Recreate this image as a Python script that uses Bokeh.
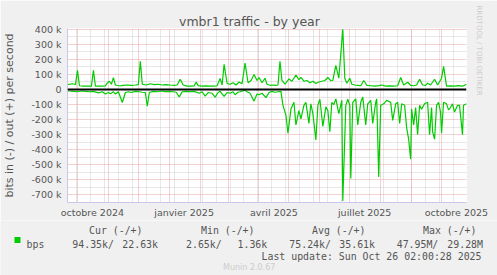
import pandas as pd
from bokeh.plotting import figure
from bokeh.models import Range1d, FixedTicker, Span, Title
from bokeh.core.properties import value
from bokeh.embed import file_html
from bokeh.resources import INLINE

# ---------------- data ----------------
START = pd.Timestamp("2024-09-21 02:00:28")
END = pd.Timestamp("2025-10-26 02:00:28")

# out (+), days since START, values in kbit/s
out_day = [0, 2, 5, 8, 10, 12, 16, 20, 24, 26, 28, 34, 38, 40, 42, 44, 46, 48, 51, 54, 56, 60, 64, 68, 71, 73,
           75, 79, 83, 87, 91, 95, 99, 103, 107, 110, 113, 116, 120, 124, 127, 129, 131, 135, 139, 143, 147,
           150, 153, 155, 157, 160, 163, 166, 169, 172, 175, 178, 181, 184, 187, 190, 192, 195, 198, 200,
           203, 206, 209, 211, 213, 215, 218, 222, 225, 229, 232, 234, 237, 240, 243, 246, 249, 252, 255,
           258, 261, 264, 266, 269, 272, 276, 278, 280, 283, 285, 288, 291, 294, 297, 300, 304, 308, 312,
           315, 319, 323, 327, 331, 334, 337, 341, 344, 347, 350, 353, 356, 359, 361, 364, 368, 371, 375,
           377, 380, 384, 388, 392, 396, 400]
out_kbps = [33, 35, 38, 33, 127, 25, 22, 22, 22, 127, 22, 22, 24, 45, 55, 35, 79, 30, 25, 26, 28, 30, 28, 30, 32, 187,
            35, 30, 38, 32, 35, 30, 33, 30, 28, 30, 68, 30, 22, 22, 24, 50, 26, 22, 24, 22, 22,
            25, 74, 30, 167, 40, 35, 45, 30, 50, 38, 175, 45, 60, 100, 60, 80, 45, 75, 35,
            28, 30, 28, 30, 187, 60, 35, 70, 55, 95, 65, 80, 55, 60, 45, 55, 40, 50, 55,
            60, 80, 58, 60, 160, 75, 400, 75, 42, 75, 35, 30, 28, 25, 60, 28, 25, 22, 26,
            30, 22, 24, 22, 25, 80, 30, 48, 28, 25, 30, 68, 30, 28, 42, 30, 68, 30, 75,
            154, 22, 24, 22, 26, 22, 35]

# in (-), days since START, values in kbit/s (drawn below zero)
in_day = [0, 2, 6, 10, 14, 18, 22, 26, 31, 35, 38, 41, 43, 46, 48, 51, 55, 58, 61, 64, 68, 72, 75, 78, 80, 82,
          86, 90, 94, 98, 102, 106, 109, 112, 115, 119, 123, 127, 132, 135, 138, 141, 145, 148, 151, 153,
          157, 160, 163, 166, 168, 171, 173, 178, 180, 183, 187, 190, 192, 195, 199, 202, 205, 208, 211,
          214, 216, 219, 221, 224, 227, 229, 232, 234, 237, 239, 242, 244, 246, 249, 251, 253, 256, 259,
          261, 263, 265, 267, 269, 272, 275, 276, 279, 281, 283, 284, 286, 289, 291, 294, 296, 299, 301,
          304, 306, 309, 310, 312, 314, 317, 320, 324, 326, 329, 331, 333, 335, 338, 340, 342, 344, 345,
          347, 349, 351, 353, 355, 358, 361, 363, 365, 366, 368, 370, 372, 374, 375, 377, 380, 382, 384,
          386, 388, 391, 393, 396, 397, 400]
in_kbps = [10, 10, 12, 15, 10, 12, 15, 12, 22, 15, 30, 20, 28, 15, 30, 15, 86, 20, 15, 20, 12, 15, 18, 20, 111, 20,
           12, 15, 10, 14, 12, 15, 18, 49, 15, 12, 14, 12, 25, 15, 44, 20, 25, 50, 20, 12,
           45, 20, 25, 15, 35, 18, 15, 5, 15, 25, 77, 30, 35, 25, 54, 20, 12, 18, 15,
           12, 105, 170, 290, 130, 85, 235, 140, 195, 105, 85, 225, 95, 160, 335, 105, 65, 245, 115,
           140, 280, 85, 100, 62, 160, 72, 740, 105, 65, 105, 590, 85, 62, 235, 85, 50, 235, 95,
           72, 225, 85, 62, 580, 105, 95, 72, 85, 205, 95, 85, 225, 95, 105, 255, 330, 462, 130,
           235, 120, 300, 105, 130, 95, 85, 300, 120, 280, 330, 105, 85, 150, 290, 85, 95, 135, 120,
           95, 150, 105, 105, 300, 105, 95]

y_ticks_k = [400, 300, 200, 100, 0, -100, -200, -300, -400, -500, -600, -700]
y_tick_labels = ["400 k", "300 k", "200 k", "100 k", "0", "-100 k", "-200 k", "-300 k",
                 "-400 k", "-500 k", "-600 k", "-700 k"]
x_label_months = ["2024-10-01", "2025-01-01", "2025-04-01", "2025-07-01", "2025-10-01"]
x_label_texts = ["octobre 2024", "janvier 2025", "avril 2025", "juillet 2025", "octobre 2025"]

series_name = "bps"
legend_headers = ["Cur (-/+)", "Min (-/+)", "Avg (-/+)", "Max (-/+)"]
legend_in_values = ["94.35k/", "2.65k/", "75.24k/", "47.95M/"]
legend_out_values = ["22.63k", "1.36k", "35.61k", "29.28M"]
last_update = "Last update: Sun Oct 26 02:00:28 2025"
munin_version = "Munin 2.0.67"
watermark = "RRDTOOL / TOBI OETIKER"
title_text = "vmbr1 traffic - by year"
y_label_text = "bits in (-) / out (+) per second"

# ---------------- helpers ----------------
EPOCH = pd.Timestamp("1970-01-01")


def ms(ts):
    return (ts - EPOCH) / pd.Timedelta(milliseconds=1)


def day_ms(d):
    return ms(START + pd.Timedelta(days=d))


out_x = [day_ms(d) for d in out_day]
out_y = [v * 1000 for v in out_kbps]
in_x = [day_ms(d) for d in in_day]
in_y = [-v * 1000 for v in in_kbps]

GREEN = "#00CC00"
TXT = "#555555"
AXIS = "#C8C8EE"
MGRID = "#E9A3A3"
GRID = "#CFCFCF"
BG = "#F0F0F0"
SANS = "DejaVu Sans"
MONO = "DejaVu Sans Mono"

W = 497
H_TOP = 220
H_LEG = 55
LEFT, RIGHT, TOP, BOTTOM = 66, 31, 28, 17

# ---------------- chart ----------------
p = figure(width=W, height=H_TOP, output_backend="svg", toolbar_location=None,
           x_range=Range1d(ms(START), ms(END)), y_range=Range1d(-750000, 405000),
           min_border_left=LEFT, min_border_right=RIGHT, min_border_top=TOP, min_border_bottom=BOTTOM,
           background_fill_color="white", border_fill_color=BG, outline_line_color=None)

p.title.text = title_text
p.title.align = "left"
p.title.offset = 111.5
p.title.standoff = 0
p.title.text_font = SANS
p.title.text_font_size = "12.5px"
p.title.text_font_style = "normal"
p.title.text_color = TXT

p.add_layout(Title(text=watermark, align="left", offset=-23, standoff=16, text_font=SANS,
                   text_font_size="7px", text_font_style="normal", text_color="#CCCCCC"), "right")

# grids: red at month starts, grey every second week
month_starts = pd.date_range("2024-10-01", "2025-10-01", freq="MS")
weeks = pd.date_range("2024-09-30", "2025-10-26", freq="2W-MON")
month_ms = [ms(t) for t in month_starts]
week_ms = [ms(t) for t in weeks]
p.xgrid.ticker = FixedTicker(ticks=month_ms, minor_ticks=week_ms)
p.xgrid.grid_line_color = MGRID
p.xgrid.grid_line_dash = "1 1"
p.xgrid.minor_grid_line_color = GRID
p.xgrid.minor_grid_line_dash = "1 1"

y_major = [k * 1000 for k in y_ticks_k]
y_minor = [k * 1000 + 50000 for k in y_ticks_k if k * 1000 + 50000 < 405000] + [-750000]
p.ygrid.ticker = FixedTicker(ticks=y_major, minor_ticks=y_minor)
p.ygrid.grid_line_color = MGRID
p.ygrid.grid_line_dash = "1 1"
p.ygrid.minor_grid_line_color = GRID
p.ygrid.minor_grid_line_dash = "1 1"

# axes
label_ms = [ms(pd.Timestamp(m) + pd.Timedelta(days=15)) for m in x_label_months]
p.xaxis.ticker = FixedTicker(ticks=label_ms, minor_ticks=[])
p.xaxis.major_label_overrides = {v: t for v, t in zip(label_ms, x_label_texts)}
p.yaxis.ticker = FixedTicker(ticks=y_major, minor_ticks=[])
p.yaxis.major_label_overrides = {v: t for v, t in zip(y_major, y_tick_labels)}
for ax in (p.xaxis[0], p.yaxis[0]):
    ax.major_tick_line_color = None
    ax.minor_tick_line_color = None
    ax.major_tick_out = 0
    ax.major_tick_in = 0
    ax.axis_line_color = AXIS
    ax.major_label_text_font = SANS
    ax.major_label_text_font_size = "9.5px"
    ax.major_label_text_color = TXT
p.xaxis.major_label_standoff = 4
p.yaxis.major_label_standoff = 6
p.yaxis.axis_label = y_label_text
p.yaxis.axis_label_text_font = SANS
p.yaxis.axis_label_text_font_size = "11px"
p.yaxis.axis_label_text_font_style = "normal"
p.yaxis.axis_label_text_color = TXT
p.yaxis.axis_label_standoff = 12

# series
p.line(out_x, out_y, line_color=GREEN, line_width=1.2)
p.line(in_x, in_y, line_color=GREEN, line_width=1.2)
p.add_layout(Span(location=0, dimension="width", line_color="black", line_width=2))

# ---------------- legend / footer area (pixel-like layout ranges) ----------------
q = figure(width=W, height=H_LEG, output_backend="svg", toolbar_location=None,
           x_range=Range1d(0, W), y_range=Range1d(H_TOP + H_LEG, H_TOP),
           min_border=0, background_fill_color=BG, border_fill_color=BG, outline_line_color=None)
q.axis.visible = False
q.grid.visible = False

MONO_SIZE = "9.9px"
header_x = [88.5, 200.5, 311.5, 422.5]
in_val_x = [71.8, 185.5, 288.8, 396.2]
out_val_x = [121.8, 237.0, 338.8, 446.8]
q.text(x=header_x, y=[230] * 4, text=legend_headers, text_font=value(MONO), text_font_size=MONO_SIZE,
       text_color=TXT, text_baseline="alphabetic")
q.text(x=in_val_x, y=[243.5] * 4, text=legend_in_values, text_font=value(MONO), text_font_size=MONO_SIZE,
       text_color=TXT, text_baseline="alphabetic")
q.text(x=out_val_x, y=[243.5] * 4, text=legend_out_values, text_font=value(MONO), text_font_size=MONO_SIZE,
       text_color=TXT, text_baseline="alphabetic")
q.text(x=[26], y=[243.5], text=[series_name], text_font=value(MONO), text_font_size=MONO_SIZE,
       text_color=TXT, text_baseline="alphabetic")
q.text(x=[261], y=[255.5], text=[last_update], text_font=value(MONO), text_font_size=MONO_SIZE,
       text_color=TXT, text_baseline="alphabetic")
q.text(x=[222.5], y=[267], text=[munin_version], text_font=value(SANS), text_font_size="8px",
       text_color="#CCCCCC", text_baseline="alphabetic")
q.quad(left=[14], right=[20], top=[236.5], bottom=[242.5], fill_color=GREEN, line_color=None)

open("out.html", "w").write(file_html([p, q], INLINE))
